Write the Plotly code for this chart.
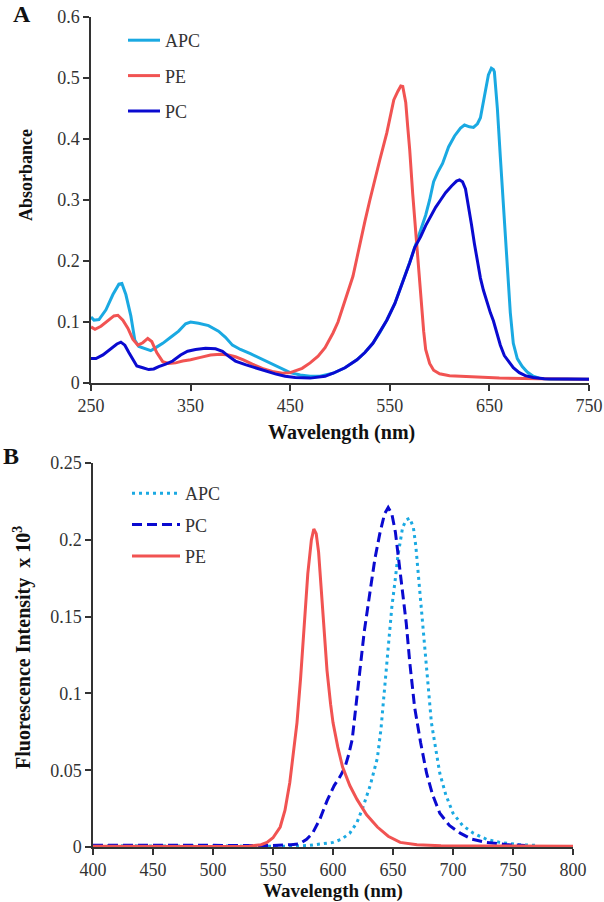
import plotly.graph_objects as go

# ---------------- Panel A: absorbance ----------------
apc_a_nm = [250, 253, 258, 265, 272, 278, 281, 285, 290, 294, 298, 305, 310, 315, 322, 330, 338, 345, 350, 358,
            368, 378, 385, 392, 400, 410, 420, 430, 440, 450, 460, 470, 480, 493, 505, 517, 525, 533, 540, 547,
            555, 560, 565, 570, 575, 581, 586, 590, 594, 598, 603, 609, 615, 621, 625, 630, 634, 638, 641, 645,
            649, 652, 654, 655, 658, 661, 664, 668, 671, 674, 678, 683, 688, 694, 700, 710, 750]
apc_a_abs = [0.108, 0.103, 0.104, 0.120, 0.145, 0.162, 0.163, 0.145, 0.110, 0.070, 0.060, 0.056, 0.053, 0.058,
             0.065, 0.075, 0.085, 0.097, 0.100, 0.098, 0.094, 0.085, 0.075, 0.062, 0.055, 0.048, 0.040, 0.032,
             0.024, 0.017, 0.013, 0.011, 0.011, 0.016, 0.025, 0.038, 0.050, 0.065, 0.083, 0.103, 0.130, 0.152,
             0.175, 0.198, 0.222, 0.250, 0.275, 0.300, 0.330, 0.345, 0.360, 0.387, 0.405, 0.418, 0.423, 0.420,
             0.419, 0.425, 0.435, 0.470, 0.505, 0.516, 0.514, 0.510, 0.450, 0.370, 0.290, 0.190, 0.115, 0.065,
             0.040, 0.027, 0.018, 0.011, 0.008, 0.006, 0.006]

pe_a_nm = [250, 254, 260, 267, 273, 277, 282, 287, 292, 297, 302, 307, 311, 316, 322, 328, 335, 342, 350, 360,
           370, 380, 388, 395, 403, 412, 422, 432, 442, 450, 456, 462, 470, 478, 485, 493, 498, 503, 508, 513,
           517, 520, 525, 530, 535, 540, 547, 551, 554, 558, 561, 563, 566, 568, 570, 573, 576, 578, 581, 584,
           586, 590, 594, 600, 610, 630, 660, 700, 750]
pe_a_abs = [0.092, 0.088, 0.093, 0.103, 0.110, 0.111, 0.103, 0.090, 0.072, 0.062, 0.066, 0.073, 0.068, 0.050,
            0.035, 0.032, 0.033, 0.036, 0.038, 0.042, 0.046, 0.047, 0.046, 0.043, 0.038, 0.031, 0.024, 0.019,
            0.016, 0.017, 0.020, 0.024, 0.033, 0.044, 0.058, 0.082, 0.100, 0.125, 0.150, 0.175, 0.205, 0.229,
            0.265, 0.300, 0.335, 0.366, 0.410, 0.440, 0.464, 0.478, 0.487, 0.486, 0.460, 0.420, 0.382, 0.310,
            0.246, 0.200, 0.136, 0.085, 0.055, 0.032, 0.021, 0.015, 0.012, 0.010, 0.008, 0.007, 0.006]

pc_a_nm = [250, 255, 262, 270, 276, 280, 284, 288, 292, 296, 302, 308, 313, 318, 325, 332, 340, 347, 355, 365,
           375, 382, 388, 395, 405, 415, 425, 435, 445, 455, 470, 485, 493, 505, 517, 525, 533, 540, 547, 555,
           560, 565, 570, 575, 581, 586, 591, 596, 601, 606, 612, 617, 620, 623, 626, 628, 632, 635, 638, 641,
           644, 648, 651, 654, 657, 661, 665, 670, 674, 680, 686, 694, 705, 750]
pc_a_abs = [0.040, 0.040, 0.046, 0.056, 0.064, 0.067, 0.062, 0.050, 0.038, 0.028, 0.025, 0.022, 0.023, 0.027,
            0.031, 0.036, 0.046, 0.052, 0.055, 0.057, 0.056, 0.052, 0.044, 0.036, 0.030, 0.025, 0.019, 0.015,
            0.011, 0.009, 0.008, 0.011, 0.016, 0.025, 0.038, 0.050, 0.065, 0.083, 0.103, 0.130, 0.152, 0.175,
            0.197, 0.222, 0.240, 0.258, 0.274, 0.288, 0.300, 0.312, 0.323, 0.331, 0.333, 0.330, 0.318, 0.300,
            0.260, 0.228, 0.200, 0.172, 0.152, 0.130, 0.115, 0.102, 0.085, 0.062, 0.045, 0.033, 0.025, 0.017,
            0.012, 0.009, 0.007, 0.006]

# ---------------- Panel B: fluorescence ----------------
apc_b_nm = [400, 500, 560, 580, 590, 600, 607, 614, 620, 625, 631, 637, 640, 643, 646, 649, 652, 654, 658, 661,
            664, 667, 669, 671, 674, 677, 680, 682, 686, 689, 694, 700, 708, 717, 728, 739, 755, 770]
apc_b_int = [0.0008, 0.0005, 0.0005, 0.001, 0.002, 0.003, 0.005, 0.009, 0.016, 0.026, 0.040, 0.058, 0.077,
             0.102, 0.128, 0.156, 0.175, 0.189, 0.208, 0.213, 0.214, 0.208, 0.196, 0.178, 0.152, 0.124, 0.100,
             0.081, 0.062, 0.048, 0.034, 0.022, 0.014, 0.009, 0.005, 0.003, 0.0015, 0.001]

pc_b_nm = [400, 450, 500, 530, 550, 565, 572, 578, 583, 589, 595, 601, 606, 610, 613, 616, 619, 622, 626, 631,
           635, 639, 643, 646, 649, 652, 655, 658, 661, 664, 668, 673, 678, 683, 689, 697, 706, 716, 728, 745, 760]
pc_b_int = [0.0012, 0.001, 0.0008, 0.0008, 0.001, 0.0015, 0.002, 0.005, 0.009, 0.018, 0.030, 0.040, 0.046,
            0.052, 0.060, 0.070, 0.090, 0.113, 0.140, 0.167, 0.188, 0.204, 0.217, 0.221, 0.217, 0.205, 0.186,
            0.166, 0.146, 0.120, 0.091, 0.068, 0.048, 0.034, 0.022, 0.014, 0.009, 0.005, 0.003, 0.0015, 0.001]

pe_b_nm = [400, 450, 500, 530, 540, 545, 550, 556, 560, 564, 567, 570, 573, 576, 579, 582, 584, 586, 588, 590,
           592, 595, 598, 600, 604, 608, 614, 620, 628, 637, 646, 656, 670, 690, 800]
pe_b_int = [0.0005, 0.0003, 0.0003, 0.0005, 0.0015, 0.003, 0.006, 0.013, 0.024, 0.042, 0.060, 0.081, 0.110,
            0.145, 0.178, 0.200, 0.207, 0.204, 0.192, 0.170, 0.146, 0.115, 0.093, 0.081, 0.065, 0.052, 0.040,
            0.031, 0.021, 0.013, 0.007, 0.003, 0.0015, 0.0008, 0.0005]

# ---------------- ticks ----------------
a_xticks = [250, 350, 450, 550, 650, 750]
a_yticks = [0, 0.1, 0.2, 0.3, 0.4, 0.5, 0.6]
a_ytext = ["0", "0.1", "0.2", "0.3", "0.4", "0.5", "0.6"]
b_xticks = [400, 450, 500, 550, 600, 650, 700, 750, 800]
b_yticks = [0, 0.05, 0.1, 0.15, 0.2, 0.25]
b_ytext = ["0", "0.05", "0.1", "0.15", "0.2", "0.25"]

C_APC = "#1AA9E2"
C_PE = "#F15352"
C_PC = "#0A0AD0"
FONT = "Liberation Serif, Times New Roman, DejaVu Serif, serif"
W, H = 604, 902

fig = go.Figure()
fig.add_trace(go.Scatter(x=apc_a_nm, y=apc_a_abs, mode="lines", name="APC", line=dict(color=C_APC, width=3),
                         xaxis="x", yaxis="y", legend="legend", legendgroup="a1"))
fig.add_trace(go.Scatter(x=pe_a_nm, y=pe_a_abs, mode="lines", name="PE", line=dict(color=C_PE, width=3),
                         xaxis="x", yaxis="y", legend="legend", legendgroup="a2"))
fig.add_trace(go.Scatter(x=pc_a_nm, y=pc_a_abs, mode="lines", name="PC", line=dict(color=C_PC, width=3),
                         xaxis="x", yaxis="y", legend="legend", legendgroup="a3"))

fig.add_trace(go.Scatter(x=apc_b_nm, y=apc_b_int, mode="lines", name="APC",
                         line=dict(color=C_APC, width=3, dash="3px,4px"),
                         xaxis="x2", yaxis="y2", legend="legend2", legendgroup="b1"))
fig.add_trace(go.Scatter(x=pc_b_nm, y=pc_b_int, mode="lines", name="PC",
                         line=dict(color=C_PC, width=3, dash="10px,5px"),
                         xaxis="x2", yaxis="y2", legend="legend2", legendgroup="b2"))
fig.add_trace(go.Scatter(x=pe_b_nm, y=pe_b_int, mode="lines", name="PE",
                         line=dict(color=C_PE, width=3),
                         xaxis="x2", yaxis="y2", legend="legend2", legendgroup="b3"))

axis_common = dict(showline=True, linecolor="#333333", linewidth=1.5, ticks="outside", ticklen=6,
                   tickcolor="#333333", tickwidth=1.5, showgrid=False, zeroline=False, automargin=False,
                   tickfont=dict(family=FONT, size=18, color="#333333"), fixedrange=True)

fig.update_layout(
    template="none",
    width=W, height=H, margin=dict(l=0, r=0, t=0, b=0, pad=0, autoexpand=False),
    paper_bgcolor="white", plot_bgcolor="white",
    font=dict(family=FONT, color="#222222"),
    xaxis=dict(domain=[91 / W, 589 / W], range=[250, 750], anchor="y", tickvals=a_xticks, **axis_common),
    yaxis=dict(domain=[1 - 383 / H, 1 - 17 / H], range=[0, 0.6], anchor="x", tickvals=a_yticks,
               ticktext=a_ytext, **axis_common),
    xaxis2=dict(domain=[93 / W, 573 / W], range=[400, 800], anchor="y2", tickvals=b_xticks, **axis_common),
    yaxis2=dict(domain=[1 - 847 / H, 1 - 463 / H], range=[0, 0.25], anchor="x2", tickvals=b_yticks,
                ticktext=b_ytext, **axis_common),
    legend=dict(x=123 / W, y=1 - 22 / H, xanchor="left", yanchor="top", bgcolor="rgba(0,0,0,0)",
                font=dict(family=FONT, size=18, color="#333333"), tracegroupgap=9, itemwidth=32),
    legend2=dict(x=127 / W, y=1 - 475 / H, xanchor="left", yanchor="top", bgcolor="rgba(0,0,0,0)",
                 font=dict(family=FONT, size=18, color="#333333"), tracegroupgap=5, itemwidth=48),
    showlegend=True,
)

annos = [
    dict(text="<b>Absorbance</b>", x=26 / W, y=1 - 175 / H, textangle=-90,
         font=dict(family=FONT, size=18, color="#111111")),
    dict(text="<b>Wavelength (nm)</b>", x=341 / W, y=1 - 432 / H,
         font=dict(family=FONT, size=20, color="#111111")),
    dict(text="<b>Wavelength (nm)</b>", x=333 / W, y=1 - 891 / H,
         font=dict(family=FONT, size=19, color="#111111")),
    dict(text="<b>Fluorescence Intensity  x 10<sup>3</sup></b>", x=22 / W, y=1 - 648 / H, textangle=-90,
         font=dict(family=FONT, size=20, color="#111111")),
    dict(text="<b>A</b>", x=22 / W, y=1 - 14 / H, font=dict(family=FONT, size=24, color="#111111")),
    dict(text="<b>B</b>", x=11 / W, y=1 - 456 / H, font=dict(family=FONT, size=24, color="#111111")),
]
for a in annos:
    fig.add_annotation(xref="paper", yref="paper", xanchor="center", yanchor="middle", showarrow=False, **a)

fig.write_html("out.html", config={"displayModeBar": False},
               post_script="document.body.style.margin='0px';document.body.style.overflow='hidden';")
